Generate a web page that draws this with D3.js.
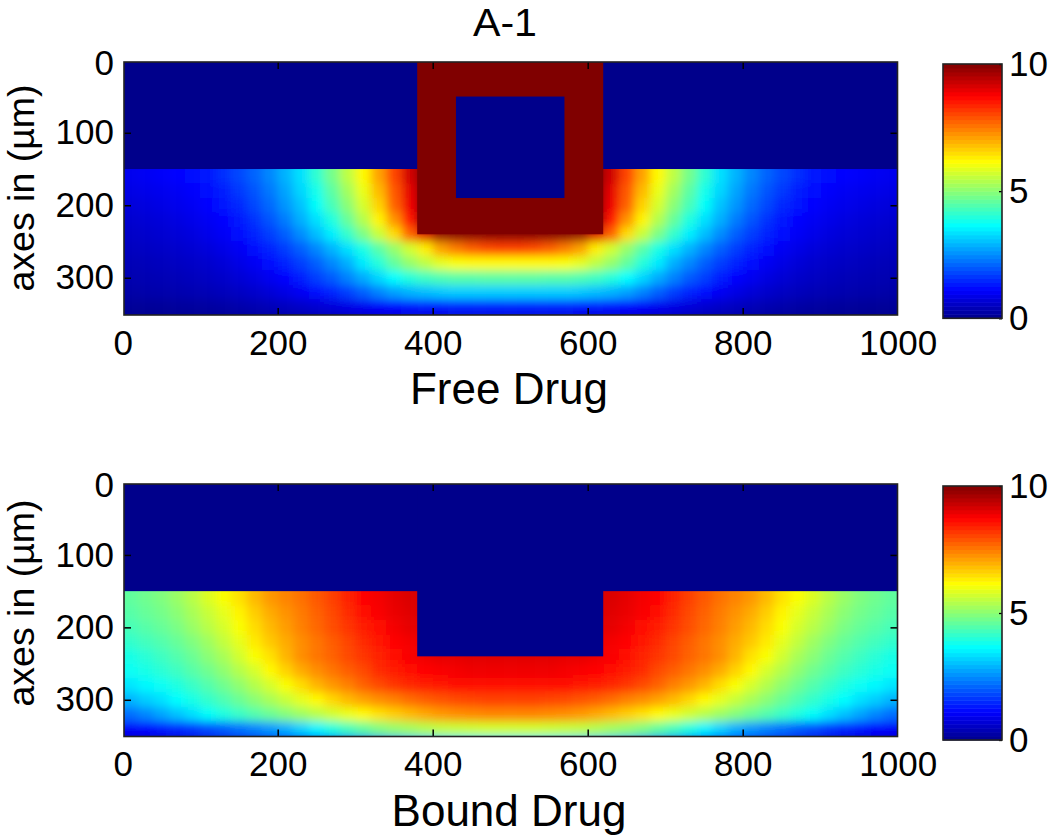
<!DOCTYPE html>
<html>
<head>
<meta charset="utf-8">
<script src="https://cdn.jsdelivr.net/npm/d3@7"></script>
<style>
  body { margin: 0; background: #fff; }
  text { font-family: "Liberation Sans", Arial, sans-serif; fill: #000; }
</style>
</head>
<body>
<div id="chart"></div>
<script>

// Grid. Columns are the left half, the field is symmetric about x = 500.
// The last row sits just under the frame and only sets how the colour ends at the bottom edge.
const xCenters = [10,30,50,70,90,110,130,150,170,190,210,230,250,270,290,310,330,350,370,390,410,430,450,470,490];
const depthCenters = [160,180,200,220,240,260,280,300,320,340,360];

const freeDrug = [
  [.95,1,1.05,1.1,1.2,1.35,1.55,1.8,2.1,2.45,2.9,3.35,4.1,4.8,5.5,6.2,7.1,8.05,9.2,10,10,10,10,10,10],
  [.85,.9,.95,1,1.08,1.2,1.4,1.65,1.95,2.3,2.75,3.25,3.85,4.55,5.25,5.95,6.85,7.85,9,10,10,10,10,10,10],
  [.75,.8,.85,.92,1,1.12,1.3,1.5,1.8,2.15,2.6,3.05,3.7,4.35,5,5.75,6.6,7.75,8.9,10,10,10,10,10,10],
  [.65,.7,.75,.82,.9,1,1.15,1.35,1.6,1.95,2.35,2.85,3.35,3.95,4.65,5.4,6.25,7.25,8.5,10,10,10,10,10,10],
  [.58,.62,.66,.72,.8,.9,1.02,1.2,1.42,1.7,2.05,2.5,3,3.5,4.15,4.85,5.6,6.5,7.75,9.1,9.8,9.9,9.9,9.9,9.9],
  [.5,.53,.57,.62,.68,.76,.87,1,1.2,1.42,1.7,2.05,2.45,2.9,3.35,3.9,4.5,5.1,5.7,6.3,7.1,7.5,7.8,8,8.1],
  [.42,.45,.48,.52,.57,.64,.73,.85,1,1.2,1.42,1.7,2.05,2.45,2.85,3.45,4,4.6,5.1,5.5,5.9,6.1,6.2,6.2,6.2],
  [.35,.37,.4,.43,.47,.53,.6,.7,.82,.97,1.15,1.4,1.7,2,2.4,2.8,3.25,3.65,4,4.25,4.4,4.5,4.5,4.55,4.55],
  [.27,.29,.31,.34,.37,.41,.46,.53,.62,.72,.85,1,1.2,1.45,1.72,2.05,2.4,2.7,2.9,3,3.1,3.15,3.15,3.15,3.15],
  [.12,.13,.14,.16,.18,.21,.25,.3,.36,.43,.5,.58,.66,.75,.85,.95,1.05,1.15,1.25,1.3,1.35,1.4,1.4,1.4,1.4],
  [.02,.02,.03,.03,.04,.05,.06,.08,.1,.13,.16,.2,.24,.28,.33,.38,.43,.48,.52,.56,.58,.6,.6,.6,.6]
];

const boundDrug = [
  [4.6,4.75,4.9,5.15,5.45,5.8,6.1,6.45,6.85,7.2,7.4,7.6,7.85,8.1,8.4,8.7,8.85,9,9.1,9.15,9.15,9.15,9.15,9.15,9.15],
  [4.5,4.65,4.8,5,5.3,5.6,5.9,6.25,6.65,7,7.25,7.5,7.75,8,8.3,8.6,8.8,8.95,9.05,9.15,9.15,9.15,9.15,9.15,9.15],
  [4.35,4.5,4.65,4.85,5.15,5.45,5.75,6.1,6.5,6.85,7.15,7.45,7.7,7.95,8.2,8.45,8.65,8.85,9,9.05,9.05,9.05,9.05,9.05,9.05],
  [4.15,4.3,4.45,4.65,4.9,5.2,5.55,5.9,6.35,6.7,7,7.3,7.55,7.8,8.05,8.3,8.5,8.7,8.85,8.95,9.05,9.05,9.05,9.05,9.05],
  [3.9,4.05,4.25,4.45,4.7,5,5.3,5.7,6.1,6.45,6.9,7.3,7.55,7.75,8,8.2,8.4,8.6,8.8,8.9,9,9,9.05,9.05,9.05],
  [3.75,3.9,4.05,4.25,4.5,4.75,5.05,5.4,5.75,6.2,6.6,7,7.3,7.55,7.8,8,8.3,8.45,8.65,8.75,8.8,8.85,8.9,8.9,8.9],
  [3.4,3.6,3.75,3.95,4.2,4.45,4.75,5.05,5.4,5.75,6.1,6.5,6.9,7.2,7.45,7.75,8,8.2,8.35,8.45,8.55,8.6,8.65,8.65,8.65],
  [2.9,3.15,3.35,3.65,3.9,4.15,4.4,4.7,5,5.3,5.6,5.9,6.2,6.55,6.85,7.1,7.3,7.45,7.65,7.8,7.9,8,8.05,8.1,8.1],
  [2.2,2.45,2.75,3.05,3.35,3.7,3.95,4.2,4.45,4.7,4.95,5.2,5.45,5.7,5.95,6.2,6.45,6.65,6.85,7.05,7.2,7.3,7.35,7.4,7.4],
  [1.05,1.15,1.3,1.45,1.6,1.8,2,2.2,2.4,2.6,2.85,3.2,3.55,3.95,4.3,4.6,4.9,5.1,5.25,5.4,5.55,5.6,5.65,5.7,5.7],
  [.5,.55,.6,.65,.7,.75,.8,.85,.9,1,1.1,1.2,1.35,1.55,1.8,2.1,2.4,2.7,2.95,3.1,3.25,3.35,3.4,3.4,3.4]
];

// Flat regions of the sample: x0, x1, depth0, depth1, value.
const freeRegions = [[0,1000,0,150,0],[380,620,0,240,10],[430,570,50,190,0]];
const boundRegions = [[0,1000,0,150,0],[380,620,0,240,0]];

const xTicks = [0,200,400,600,800,1000];
const yTicks = [0,100,200,300];
const barTicks = [0,5,10];
const CELL = 20;

// MATLAB style jet colormap
const jet = d3.scaleLinear()
  .domain([0,1.1,3.65,6.15,8.75,10])
  .range(["#00008b","#0000ff","#00ffff","#ffff00","#ff0000","#800000"])
  .clamp(true);

const svg = d3.select("#chart").append("svg")
  .attr("width", 1050)
  .attr("height", 835)
  .style("display", "block");

svg.append("defs").append("filter")
  .attr("id", "smooth")
  .attr("x", "-5%").attr("y", "-15%").attr("width", "110%").attr("height", "130%")
  .append("feGaussianBlur")
  .attr("stdDeviation", 5);

svg.append("text")
  .attr("x", 505)
  .attr("y", 35.5)
  .attr("text-anchor", "middle")
  .attr("textLength", 64)
  .attr("lengthAdjust", "spacingAndGlyphs")
  .style("font-size", "39px")
  .text("A-1");

/**
 * Draws one image panel with its colorbar.
 */
function drawPanel(id, field, regions, label, box) {

  var x = d3.scaleLinear().domain([0,1000]).range([122.7,897.7]);
  var y = d3.scaleLinear().domain([0,350]).range([box.y0,box.y350]);
  var g = svg.append("g");

  g.append("clipPath").attr("id", "clip" + id)
    .append("rect")
    .attr("x", box.left).attr("y", box.top)
    .attr("width", box.right - box.left).attr("height", box.bottom - box.top);

  var plot = g.append("g").attr("clip-path", "url(#clip" + id + ")");
  var cells = plot.append("g").attr("filter", "url(#smooth)");

  // Both halves of the field, edge cells pulled past the frame so the blur stays solid.
  field.forEach(function(row, r) {
    row.forEach(function(v, c) {
      [xCenters[c], 1000 - xCenters[c]].forEach(function(xc) {
        var x0 = x(xc - CELL / 2), x1 = x(xc + CELL / 2);
        var y0 = y(depthCenters[r] - CELL / 2), y1 = y(depthCenters[r] + CELL / 2);
        if (xc === xCenters[0]) x0 -= 30;
        if (xc === 1000 - xCenters[0]) x1 += 30;
        if (r === 0) y0 -= 30;
        if (r === field.length - 1) y1 += 30;
        cells.append("rect")
          .attr("x", x0).attr("y", y0)
          .attr("width", x1 - x0 + 0.5).attr("height", y1 - y0 + 0.5)
          .attr("fill", jet(v));
      });
    });
  });

  plot.selectAll(".region")
    .data(regions)
    .enter()
    .append("rect")
    .attr("class", "region")
    .attr("x", function(d) { return x(d[0]); })
    .attr("y", function(d) { return y(d[2]); })
    .attr("width", function(d) { return x(d[1]) - x(d[0]); })
    .attr("height", function(d) { return y(d[3]) - y(d[2]); })
    .attr("fill", function(d) { return jet(d[4]); });

  // Axes, with the ticks pointing inward on all four sides.
  var bottom = g.append("g").attr("transform", "translate(0," + box.bottom + ")")
    .call(d3.axisBottom(x).tickValues(xTicks).tickFormat(d3.format("d")).tickSize(-7).tickPadding(15));
  var left = g.append("g").attr("transform", "translate(" + box.left + ",0)")
    .call(d3.axisLeft(y).tickValues(yTicks).tickSize(-7).tickPadding(10));
  var top = g.append("g").attr("transform", "translate(0," + box.top + ")")
    .call(d3.axisTop(x).tickValues(xTicks).tickSize(-7).tickFormat(""));
  var right = g.append("g").attr("transform", "translate(" + box.right + ",0)")
    .call(d3.axisRight(y).tickValues(yTicks).tickSize(-7).tickFormat(""));

  [bottom, left, top, right].forEach(function(a) {
    a.select(".domain").remove();
    a.selectAll(".tick line")
      .attr("stroke", "#000")
      .attr("stroke-width", 1.5)
      .filter(function(d) { return d === 0 || d === 1000; })
      .remove();
    a.selectAll("text").style("font-size", "35px").attr("font-family", null);
  });

  // The 0 label lines up with the frame, not with the image origin.
  left.selectAll("text")
    .filter(function(d) { return d === 0; })
    .attr("y", 2.5);

  g.append("rect")
    .attr("x", box.left).attr("y", box.top)
    .attr("width", box.right - box.left).attr("height", box.bottom - box.top)
    .attr("fill", "none")
    .attr("stroke", "#222")
    .attr("stroke-width", 1.6);

  g.append("text")
    .attr("x", 509)
    .attr("y", box.bottom + 89)
    .attr("text-anchor", "middle")
    .style("font-size", "44px")
    .text(label);

  g.append("text")
    .attr("transform", "translate(34," + box.labelY + ") rotate(-90)")
    .attr("text-anchor", "middle")
    .attr("textLength", 207)
    .attr("lengthAdjust", "spacingAndGlyphs")
    .style("font-size", "37px")
    .text("axes in (\u00b5m)");

  // Colorbar
  var levels = d3.range(64).map(function(i) { return i * 10 / 64; });
  var c = d3.scaleLinear().domain([0,10]).range([box.barBottom,box.barTop]);

  g.selectAll(".level")
    .data(levels)
    .enter()
    .append("rect")
    .attr("class", "level")
    .attr("x", 943)
    .attr("width", 59)
    .attr("y", function(d) { return c(d + 10 / 64); })
    .attr("height", function(d) { return c(d) - c(d + 10 / 64) + 0.5; })
    .attr("fill", function(d) { return jet(d + 5 / 64); });

  var barAxis = g.append("g").attr("transform", "translate(1002,0)")
    .call(d3.axisRight(c).tickValues(barTicks).tickSize(-3).tickPadding(7));
  barAxis.select(".domain").remove();
  barAxis.selectAll("text").style("font-size", "35px").attr("font-family", null);
  barAxis.selectAll(".tick line").attr("stroke-width", 1.3);

  g.append("rect")
    .attr("x", 943).attr("y", box.barTop)
    .attr("width", 59).attr("height", box.barBottom - box.barTop)
    .attr("fill", "none")
    .attr("stroke", "#222")
    .attr("stroke-width", 1.6);
}

drawPanel("free", freeDrug, freeRegions, "Free Drug", {
  left: 124, right: 897.5, top: 62, bottom: 315, y0: 60.3, y350: 314,
  barTop: 64, barBottom: 318.3, labelY: 188
});

drawPanel("bound", boundDrug, boundRegions, "Bound Drug", {
  left: 124, right: 897.5, top: 484, bottom: 736.5, y0: 482.5, y350: 736,
  barTop: 486, barBottom: 740, labelY: 603
});

</script>
</body>
</html>
